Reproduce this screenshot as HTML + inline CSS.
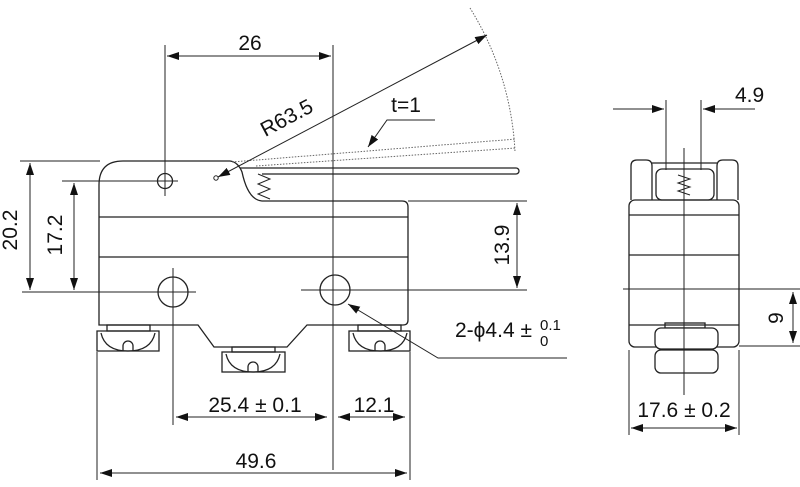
<!DOCTYPE html>
<html><head><meta charset="utf-8"><style>
html,body{margin:0;padding:0;background:#fff}
svg{display:block}
text{font-family:"Liberation Sans",Arial,sans-serif;fill:#111}
</style></head><body>
<svg width="800" height="487" viewBox="0 0 800 487" xmlns="http://www.w3.org/2000/svg">
<defs>
<marker id="a" markerWidth="12" markerHeight="8" refX="12" refY="4" orient="auto" markerUnits="userSpaceOnUse"><path d="M0,0 L12,4 L0,8 z" fill="#111"/></marker>
<marker id="b" markerWidth="12" markerHeight="8" refX="0" refY="4" orient="auto" markerUnits="userSpaceOnUse"><path d="M12,0 L0,4 L12,8 z" fill="#111"/></marker>
</defs>
<g stroke="#222" stroke-width="1.3" fill="none">
<path d="M99,325 L99,185 Q99,161 123,161 L230,161 Q238,162 242,172 Q248,200 262,201 L402,201 Q408,201 408,207 L408,320 Q408,325 403,325 L307,325 L287,347 L214,347 L198,325 Z"/>
<line x1="99" y1="217" x2="408" y2="217"/>
<line x1="99" y1="257" x2="408" y2="257"/>
<path d="M240,168 L516,168 A3,3 0 0 1 516,174 L262,174"/>
<path d="M258,174 L270,179 L258,184 L270,189 L258,194 L270,199" stroke-width="1"/>
<circle cx="216" cy="178" r="2.2" stroke-width="1"/>
<circle cx="165" cy="181" r="7.5"/>
<circle cx="173" cy="292" r="15"/>
<circle cx="335" cy="290" r="15"/>
<rect x="107" y="325" width="43" height="6"/>
<path d="M97,331 L159,331 L159,351 L97,351 Z"/>
<path d="M101,333 Q105,351 128,351 Q151,351 155,333"/>
<path d="M123,351 L123,346 A5,5 0 0 1 133,346 L133,351"/>
<rect x="232" y="347" width="43" height="5"/>
<rect x="222" y="352" width="63" height="20"/>
<path d="M226,354 Q230,372 253,372 Q276,372 280,354"/>
<path d="M248,372 L248,367 A5,5 0 0 1 258,367 L258,372"/>
<rect x="358" y="325" width="43" height="6"/>
<rect x="349" y="331" width="61" height="20"/>
<path d="M353,333 Q357,351 380,351 Q403,351 407,333"/>
<path d="M375,351 L375,346 A5,5 0 0 1 385,346 L385,351"/>
</g>
<g stroke="#666" stroke-width="1" fill="none" stroke-dasharray="1.5,1.5">
<path d="M470,8 A300,300 0 0 1 515,152"/>
<line x1="232" y1="162" x2="516" y2="139"/>
<line x1="256" y1="166" x2="516" y2="148"/>
</g>
<g stroke="#222" stroke-width="1" fill="none">
<line x1="165" y1="45" x2="165" y2="196"/>
<line x1="333" y1="45" x2="333" y2="470"/>
<line x1="167" y1="56" x2="331" y2="56" marker-start="url(#b)" marker-end="url(#a)"/>
<line x1="218" y1="177" x2="487" y2="35" marker-start="url(#b)" marker-end="url(#a)"/>
<polyline points="435,120 387,120 368,147" marker-end="url(#a)"/>
<line x1="20" y1="161" x2="100" y2="161"/>
<line x1="62" y1="181" x2="178" y2="181"/>
<line x1="22" y1="292" x2="196" y2="292"/>
<line x1="173" y1="268" x2="173" y2="425"/>
<line x1="301" y1="290" x2="527" y2="290"/>
<line x1="408" y1="201" x2="527" y2="201"/>
<line x1="30" y1="163" x2="30" y2="290" marker-start="url(#b)" marker-end="url(#a)"/>
<line x1="74" y1="183" x2="74" y2="290" marker-start="url(#b)" marker-end="url(#a)"/>
<line x1="517" y1="203" x2="517" y2="288" marker-start="url(#b)" marker-end="url(#a)"/>
<polyline points="567,358 438,358 348,304" marker-end="url(#a)"/>
<line x1="97" y1="352" x2="97" y2="480"/>
<line x1="410" y1="352" x2="410" y2="480"/>
<line x1="176" y1="417" x2="327" y2="417" marker-start="url(#b)" marker-end="url(#a)"/>
<line x1="338" y1="417" x2="405" y2="417" marker-start="url(#b)" marker-end="url(#a)"/>
<line x1="100" y1="473" x2="407" y2="473" marker-start="url(#b)" marker-end="url(#a)"/>
</g>
<g stroke="#222" stroke-width="1.3" fill="none">
<rect x="629" y="200" width="110" height="147" rx="6"/>
<line x1="629" y1="215" x2="739" y2="215"/>
<line x1="629" y1="255" x2="739" y2="255"/>
<line x1="629" y1="325" x2="739" y2="325"/>
<path d="M631,200 L631,166 Q631,160 637,160 L646,160 Q652,160 652,166 L652,200"/>
<path d="M717,200 L717,166 Q717,160 723,160 L732,160 Q738,160 738,166 L738,200"/>
<path d="M652,163 L717,163"/>
<rect x="656" y="169" width="58" height="31" rx="6"/>
<path d="M678,175 L690,179 L678,183 L690,187 L678,191 L690,195" stroke-width="1"/>
<rect x="665" y="323" width="40" height="5"/>
<rect x="655" y="328" width="63" height="21" rx="6" fill="#fff"/>
<rect x="655" y="350" width="63" height="23" rx="6"/>
</g>
<g stroke="#222" stroke-width="1" fill="none">
<line x1="684" y1="148" x2="684" y2="395"/>
<line x1="666" y1="100" x2="666" y2="170"/>
<line x1="701" y1="100" x2="701" y2="170"/>
<line x1="613" y1="109" x2="664" y2="109" marker-end="url(#a)"/>
<line x1="755" y1="109" x2="703" y2="109" marker-end="url(#a)"/>
<line x1="623" y1="289" x2="800" y2="289"/>
<line x1="739" y1="346" x2="800" y2="346"/>
<line x1="793" y1="292" x2="793" y2="343" marker-start="url(#b)" marker-end="url(#a)"/>
<line x1="629" y1="350" x2="629" y2="435"/>
<line x1="739" y1="350" x2="739" y2="435"/>
<line x1="631" y1="428" x2="737" y2="428" marker-start="url(#b)" marker-end="url(#a)"/>
</g>
<g font-size="21">
<text x="250" y="50" text-anchor="middle">26</text>
<text x="290" y="124" text-anchor="middle" transform="rotate(-28 290 124)">R63.5</text>
<text x="406" y="112" text-anchor="middle">t=1</text>
<text x="0" y="0" text-anchor="middle" transform="translate(17,230) rotate(-90)">20.2</text>
<text x="0" y="0" text-anchor="middle" transform="translate(62,235) rotate(-90)">17.2</text>
<text x="0" y="0" text-anchor="middle" transform="translate(509,245) rotate(-90)">13.9</text>
<text x="455" y="337">2-ϕ4.4 ±</text>
<text x="255" y="412" text-anchor="middle">25.4 ± 0.1</text>
<text x="374" y="412" text-anchor="middle">12.1</text>
<text x="256" y="468" text-anchor="middle">49.6</text>
<text x="735" y="102">4.9</text>
<text x="0" y="0" text-anchor="middle" transform="translate(783,318) rotate(-90)">9</text>
<text x="684" y="417" text-anchor="middle">17.6 ± 0.2</text>
</g>
<g font-size="15">
<text x="540" y="330">0.1</text>
<text x="540" y="346">0</text>
</g>
</svg>
</body></html>
